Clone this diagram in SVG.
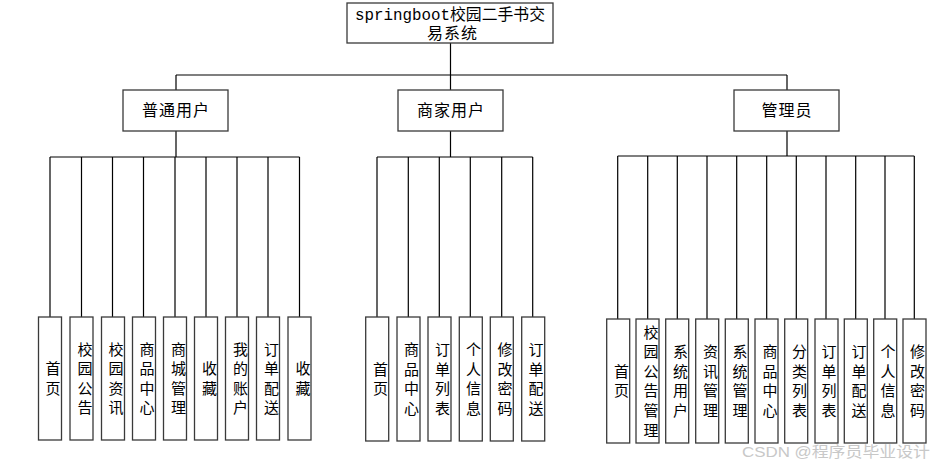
<svg xmlns="http://www.w3.org/2000/svg" width="936" height="467" viewBox="0 0 936 467">
<style>
.box{fill:#fff;stroke:#3a3a3a;stroke-width:1.3}
.ln{stroke:#000;stroke-width:1.2;fill:none}
.t{font-family:"Noto Sans CJK SC","Liberation Sans",sans-serif;font-size:15px;fill:#000;text-anchor:middle}
.h{font-family:"Noto Sans CJK SC","Liberation Sans",sans-serif;font-size:16px;fill:#000;text-anchor:middle;letter-spacing:1px}
.top{font-family:"Liberation Mono","Noto Sans CJK SC",monospace;font-size:16px;fill:#000;text-anchor:middle}
.wm{font-family:"Liberation Sans","Noto Sans CJK SC",sans-serif;font-size:15px;fill:#c8c8c8}
</style>
<rect width="936" height="467" fill="#fff"/>
<g id="connectors">
<path class="ln" d="M450.5 43V75M176 75H787M176 75V90M450.5 75V90M787 75V90"/>
<path class="ln" d="M176 131V157M50 157H299.5M50 157V317M81.5 157V317M112.5 157V317M143.5 157V317M175 157V317M206 157V317M237 157V317M268 157V317M299.5 157V317"/>
<path class="ln" d="M450.5 131V157M377 157H532.7M377 157V317M408.3 157V317M439.3 157V317M470.3 157V317M501.7 157V317M532.7 157V317"/>
<path class="ln" d="M787 131V156M617.7 156H914.3M617.7 156V319M647.7 156V319M677.3 156V319M707 156V319M736.7 156V319M766.7 156V319M796.3 156V319M826 156V319M855.7 156V319M885 156V319M914.3 156V319"/>
</g>
<g id="root">
<rect class="box" x="347" y="3" width="206" height="40"/>
<text class="top" x="450" y="20" textLength="190" lengthAdjust="spacingAndGlyphs">springboot校园二手书交</text>
<text class="top" x="452" y="39" textLength="50" lengthAdjust="spacing">易系统</text>
</g>
<g id="n-user"><rect class="box" x="123" y="90" width="105" height="41"/><text class="h" x="176" y="116">普通用户</text></g>
<g id="n-merchant"><rect class="box" x="398" y="90" width="105" height="41"/><text class="h" x="451" y="116">商家用户</text></g>
<g id="n-admin"><rect class="box" x="734" y="90" width="105" height="41"/><text class="h" x="787" y="116">管理员</text></g>

<g id="u1"><rect class="box" x="38.5" y="317" width="23" height="123"/><text class="t"><tspan x="53" y="374.2">首</tspan><tspan x="53" dy="19.6">页</tspan></text></g>
<g id="u2"><rect class="box" x="70" y="317" width="23" height="123"/><text class="t"><tspan x="85" y="354.6">校</tspan><tspan x="85" dy="19.6">园</tspan><tspan x="85" dy="19.6">公</tspan><tspan x="85" dy="19.6">告</tspan></text></g>
<g id="u3"><rect class="box" x="101.5" y="317" width="23" height="123"/><text class="t"><tspan x="116" y="354.6">校</tspan><tspan x="116" dy="19.6">园</tspan><tspan x="116" dy="19.6">资</tspan><tspan x="116" dy="19.6">讯</tspan></text></g>
<g id="u4"><rect class="box" x="132.5" y="317" width="23" height="123"/><text class="t"><tspan x="147" y="354.6">商</tspan><tspan x="147" dy="19.6">品</tspan><tspan x="147" dy="19.6">中</tspan><tspan x="147" dy="19.6">心</tspan></text></g>
<g id="u5"><rect class="box" x="163.5" y="317" width="23" height="123"/><text class="t"><tspan x="178.5" y="354.6">商</tspan><tspan x="178.5" dy="19.6">城</tspan><tspan x="178.5" dy="19.6">管</tspan><tspan x="178.5" dy="19.6">理</tspan></text></g>
<g id="u6"><rect class="box" x="194.5" y="317" width="23" height="123"/><text class="t"><tspan x="209.5" y="374.2">收</tspan><tspan x="209.5" dy="19.6">藏</tspan></text></g>
<g id="u7"><rect class="box" x="225.5" y="317" width="23" height="123"/><text class="t"><tspan x="240.5" y="354.6">我</tspan><tspan x="240.5" dy="19.6">的</tspan><tspan x="240.5" dy="19.6">账</tspan><tspan x="240.5" dy="19.6">户</tspan></text></g>
<g id="u8"><rect class="box" x="256.5" y="317" width="23" height="123"/><text class="t"><tspan x="271.5" y="354.6">订</tspan><tspan x="271.5" dy="19.6">单</tspan><tspan x="271.5" dy="19.6">配</tspan><tspan x="271.5" dy="19.6">送</tspan></text></g>
<g id="u9"><rect class="box" x="288" y="317" width="23" height="123"/><text class="t"><tspan x="303" y="374.2">收</tspan><tspan x="303" dy="19.6">藏</tspan></text></g>

<g id="m1"><rect class="box" x="365.7" y="317" width="23" height="124"/><text class="t"><tspan x="380.5" y="374.7">首</tspan><tspan x="380.5" dy="19.6">页</tspan></text></g>
<g id="m2"><rect class="box" x="397" y="317" width="23" height="124"/><text class="t"><tspan x="411.5" y="355.1">商</tspan><tspan x="411.5" dy="19.6">品</tspan><tspan x="411.5" dy="19.6">中</tspan><tspan x="411.5" dy="19.6">心</tspan></text></g>
<g id="m3"><rect class="box" x="428" y="317" width="23" height="124"/><text class="t"><tspan x="442.5" y="355.1">订</tspan><tspan x="442.5" dy="19.6">单</tspan><tspan x="442.5" dy="19.6">列</tspan><tspan x="442.5" dy="19.6">表</tspan></text></g>
<g id="m4"><rect class="box" x="459.3" y="317" width="23" height="124"/><text class="t"><tspan x="473.5" y="355.1">个</tspan><tspan x="473.5" dy="19.6">人</tspan><tspan x="473.5" dy="19.6">信</tspan><tspan x="473.5" dy="19.6">息</tspan></text></g>
<g id="m5"><rect class="box" x="490.3" y="317" width="23" height="124"/><text class="t"><tspan x="505" y="355.1">修</tspan><tspan x="505" dy="19.6">改</tspan><tspan x="505" dy="19.6">密</tspan><tspan x="505" dy="19.6">码</tspan></text></g>
<g id="m6"><rect class="box" x="521.7" y="317" width="23" height="124"/><text class="t"><tspan x="536" y="355.1">订</tspan><tspan x="536" dy="19.6">单</tspan><tspan x="536" dy="19.6">配</tspan><tspan x="536" dy="19.6">送</tspan></text></g>

<g id="a1"><rect class="box" x="606.7" y="319" width="23" height="124"/><text class="t"><tspan x="621.5" y="376.7">首</tspan><tspan x="621.5" dy="19.6">页</tspan></text></g>
<g id="a2"><rect class="box" x="636" y="319" width="23" height="124"/><text class="t"><tspan x="651" y="337.5">校</tspan><tspan x="651" dy="19.6">园</tspan><tspan x="651" dy="19.6">公</tspan><tspan x="651" dy="19.6">告</tspan><tspan x="651" dy="19.6">管</tspan><tspan x="651" dy="19.6">理</tspan></text></g>
<g id="a3"><rect class="box" x="665.7" y="319" width="23" height="124"/><text class="t"><tspan x="680.5" y="357.1">系</tspan><tspan x="680.5" dy="19.6">统</tspan><tspan x="680.5" dy="19.6">用</tspan><tspan x="680.5" dy="19.6">户</tspan></text></g>
<g id="a4"><rect class="box" x="695.7" y="319" width="23" height="124"/><text class="t"><tspan x="710.5" y="357.1">资</tspan><tspan x="710.5" dy="19.6">讯</tspan><tspan x="710.5" dy="19.6">管</tspan><tspan x="710.5" dy="19.6">理</tspan></text></g>
<g id="a5"><rect class="box" x="725.3" y="319" width="23" height="124"/><text class="t"><tspan x="740" y="357.1">系</tspan><tspan x="740" dy="19.6">统</tspan><tspan x="740" dy="19.6">管</tspan><tspan x="740" dy="19.6">理</tspan></text></g>
<g id="a6"><rect class="box" x="755" y="319" width="23" height="124"/><text class="t"><tspan x="770" y="357.1">商</tspan><tspan x="770" dy="19.6">品</tspan><tspan x="770" dy="19.6">中</tspan><tspan x="770" dy="19.6">心</tspan></text></g>
<g id="a7"><rect class="box" x="784.7" y="319" width="23" height="124"/><text class="t"><tspan x="799.5" y="357.1">分</tspan><tspan x="799.5" dy="19.6">类</tspan><tspan x="799.5" dy="19.6">列</tspan><tspan x="799.5" dy="19.6">表</tspan></text></g>
<g id="a8"><rect class="box" x="815" y="319" width="23" height="124"/><text class="t"><tspan x="829" y="357.1">订</tspan><tspan x="829" dy="19.6">单</tspan><tspan x="829" dy="19.6">列</tspan><tspan x="829" dy="19.6">表</tspan></text></g>
<g id="a9"><rect class="box" x="844.3" y="319" width="23" height="124"/><text class="t"><tspan x="859" y="357.1">订</tspan><tspan x="859" dy="19.6">单</tspan><tspan x="859" dy="19.6">配</tspan><tspan x="859" dy="19.6">送</tspan></text></g>
<g id="a10"><rect class="box" x="873.7" y="319" width="23" height="124"/><text class="t"><tspan x="888" y="357.1">个</tspan><tspan x="888" dy="19.6">人</tspan><tspan x="888" dy="19.6">信</tspan><tspan x="888" dy="19.6">息</tspan></text></g>
<g id="a11"><rect class="box" x="903" y="319" width="23" height="124"/><text class="t"><tspan x="917.5" y="357.1">修</tspan><tspan x="917.5" dy="19.6">改</tspan><tspan x="917.5" dy="19.6">密</tspan><tspan x="917.5" dy="19.6">码</tspan></text></g>

<text class="wm" x="742" y="457" textLength="188" lengthAdjust="spacingAndGlyphs">CSDN @程序员毕业设计</text>
</svg>
